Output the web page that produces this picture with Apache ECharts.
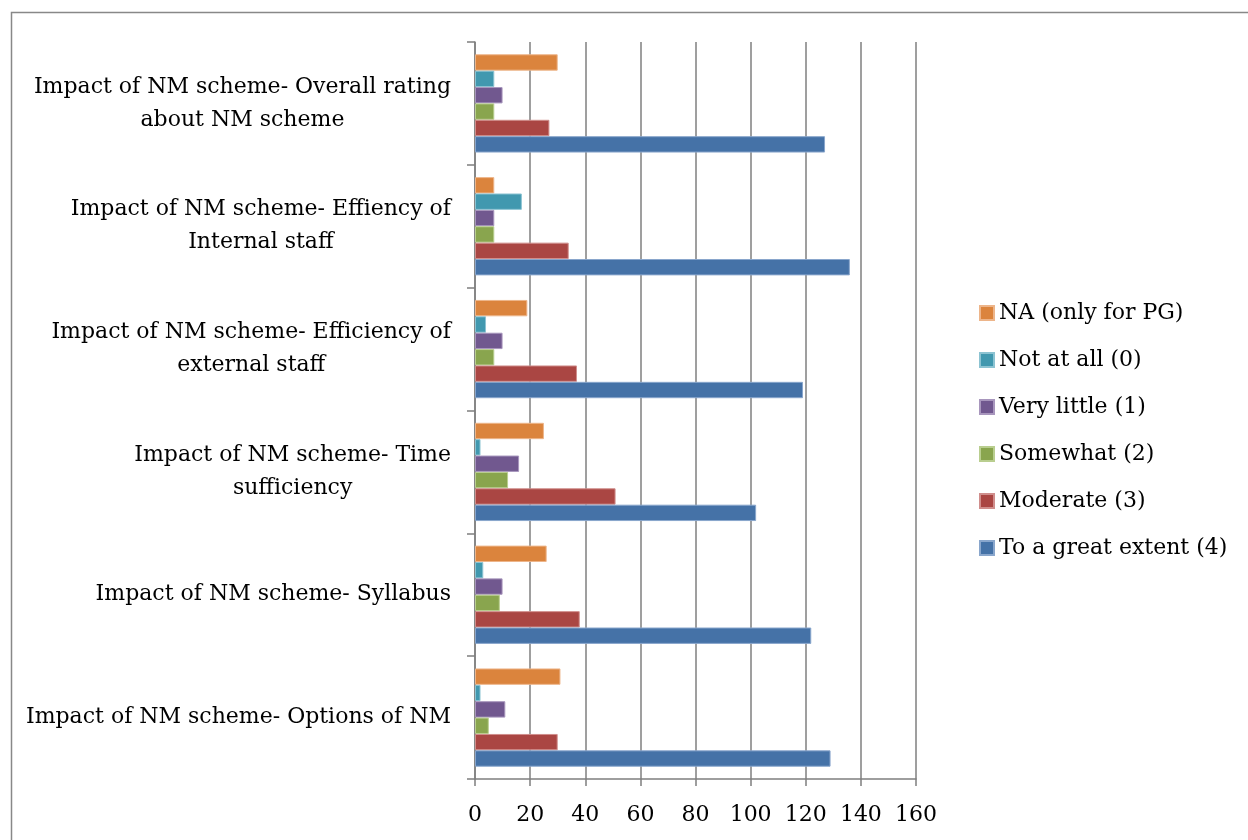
<!DOCTYPE html>
<html lang="en">
<head>
    <meta charset="UTF-8">
    <title>Impact of NM scheme</title>
    <style>
      * {
          padding: 0;
          margin: 0;
      }
      body { background: #fff; }
   </style>
</head>
<body>
    <div id="main" style="width: 1248px;height:840px;"></div>
    <script src="https://cdn.jsdelivr.net/npm/echarts@6/dist/echarts.min.js"></script>
    <script>
        // categories, bottom to top as in the picture
        var categories = [
            'Impact of NM scheme- Options of NM',
            'Impact of NM scheme- Syllabus',
            'Impact of NM scheme- Time\nsufficiency',
            'Impact of NM scheme- Efficiency of\nexternal staff',
            'Impact of NM scheme- Effiency of\nInternal staff',
            'Impact of NM scheme- Overall rating\nabout NM scheme'
        ];
        var seriesNames = [
            'NA (only for PG)',
            'Not at all (0)',
            'Very little (1)',
            'Somewhat (2)',
            'Moderate (3)',
            'To a great extent (4)'
        ];
        var naOnlyPG   = [31, 26, 25, 19, 7, 30];
        var notAtAll   = [2, 3, 2, 4, 17, 7];
        var veryLittle = [11, 10, 16, 10, 7, 10];
        var somewhat   = [5, 9, 12, 7, 7, 7];
        var moderate   = [30, 38, 51, 37, 34, 27];
        var greatExtent = [129, 122, 102, 119, 136, 127];
        var xTicks = [0, 20, 40, 60, 80, 100, 120, 140, 160];

        var colors = ['#DB843D', '#4198AF', '#71588F', '#89A54E', '#AA4643', '#4572A7'];
        var borders = ['#EDB58A', '#8CC3D2', '#A896BD', '#B9CE8F', '#D08E8C', '#89A6CC'];
        var values = [naOnlyPG, notAtAll, veryLittle, somewhat, moderate, greatExtent];

        var fontFamily = '"DejaVu Serif", serif';
        var lineColor = '#7f7f7f';

        var series = seriesNames.map(function (name, i) {
            return {
                name: name,
                type: 'bar',
                data: values[i],
                barGap: '0%',
                barCategoryGap: '20%',
                itemStyle: {
                    color: colors[i],
                    borderColor: borders[i],
                    borderWidth: 1
                }
            };
        });

        option = {
            animation: false,
            backgroundColor: '#fff',
            textStyle: { fontFamily: fontFamily },
            graphic: [{
                type: 'rect',
                shape: { x: 11.5, y: 12.5, width: 1400, height: 1000 },
                style: { fill: 'none', stroke: '#888', lineWidth: 1.5 },
                silent: true
            }],
            legend: {
                orient: 'vertical',
                left: 979,
                top: 302,
                padding: 0,
                itemWidth: 14,
                itemHeight: 14,
                itemGap: 25,
                icon: 'rect',
                data: seriesNames,
                textStyle: {
                    fontFamily: fontFamily,
                    fontSize: 22,
                    color: '#000'
                }
            },
            grid: {
                left: 475,
                right: 332,
                top: 42,
                bottom: 61,
                containLabel: false
            },
            xAxis: {
                type: 'value',
                min: xTicks[0],
                max: xTicks[xTicks.length - 1],
                interval: 20,
                axisLine: { show: true, lineStyle: { color: lineColor, width: 1.5 } },
                axisTick: { show: true, length: 7, lineStyle: { color: lineColor, width: 1.5 } },
                axisLabel: {
                    margin: 25,
                    color: '#000',
                    fontSize: 22,
                    fontFamily: fontFamily
                },
                splitLine: { show: true, lineStyle: { color: lineColor, width: 1.5 } }
            },
            yAxis: {
                type: 'category',
                data: categories,
                axisLine: { show: true, lineStyle: { color: lineColor, width: 1.5 } },
                axisTick: { show: true, length: 8, lineStyle: { color: lineColor, width: 1.5 } },
                splitLine: { show: false },
                axisLabel: {
                    margin: 24,
                    color: '#000',
                    fontSize: 22,
                    fontFamily: fontFamily,
                    align: 'right',
                    lineHeight: 33,
                    // 多行标签每行居中
                    formatter: function (v) {
                        return v.split('\n').map(function (s) {
                            return '{c|' + s + '}';
                        }).join('\n');
                    },
                    rich: {
                        c: {
                            align: 'center',
                            color: '#000',
                            fontSize: 22,
                            lineHeight: 33,
                            fontFamily: fontFamily
                        }
                    }
                }
            },
            series: series
        };

        var myChart = echarts.init(document.getElementById('main'));
        myChart.setOption(option);
    </script>
</body>
</html>
